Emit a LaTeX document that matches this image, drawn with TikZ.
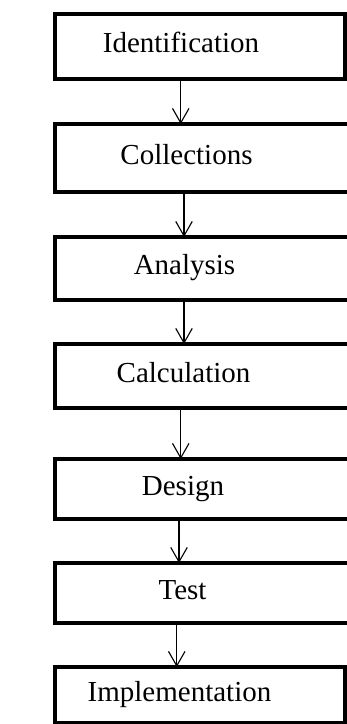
\documentclass[tikz,border=0pt]{standalone}
\usepackage{fontspec}
\setmainfont{Liberation Serif}
\usepackage{xcolor}
\definecolor{cLine}{HTML}{000000}
\usetikzlibrary{positioning,arrows.meta}
\tikzset{
  node-step/.style={draw=cLine,line width=1.72pt,outer sep=0pt,rectangle,
    minimum width=122pt},
  node-end/.style={minimum width=116.2pt},
  node-label/.style={inner sep=0pt,text height=0.7em,text depth=0.2em,
    font=\fontsize{11.6}{14}\selectfont},
  arrow/.style={-{Straight Barb[length=5.8pt,width=6.6pt]},line width=0.45pt,draw=cLine},
}

\begin{document}
\begin{tikzpicture}
  \useasboundingbox (0,0) rectangle (138.8pt,-289.6pt);
  \clip (0,0) rectangle (138.8pt,-289.6pt);
  \node[node-step,node-end,minimum height=26pt] (s1) at (80.1pt,-18.6pt) {};
  \node[node-step,minimum height=27.2pt,below=18pt of s1,xshift=2.9pt] (s2) {};
  \node[node-step,minimum height=25.2pt,below=18pt of s2] (s3) {};
  \node[node-step,minimum height=25.6pt,below=17.6pt of s3] (s4) {};
  \node[node-step,minimum height=24pt,below=20.4pt of s4] (s5) {};
  \node[node-step,minimum height=24pt,below=17.6pt of s5] (s6) {};
  \node[node-step,node-end,minimum height=22.4pt,below=17.6pt of s6,xshift=-3pt] (s7) {};

  \node[node-label] (t1) at ([xshift=-7.7pt]s1.center) {Identification};
  \node[node-label] (t2) at ([xshift=-8.4pt]s2.center) {Collections};
  \node[node-label] (t3) at ([xshift=-9.2pt]s3.center) {Analysis};
  \node[node-label] (t4) at ([xshift=-9.6pt]s4.center) {Calculation};
  \node[node-label] (t5) at ([xshift=-9.8pt]s5.center) {Design};
  \node[node-label] (t6) at ([xshift=-10pt]s6.center) {Test};
  \node[node-label] (t7) at ([xshift=-8.2pt]s7.center) {Implementation};

  \draw[arrow] ([xshift=-7.8pt]s1.south) -- ([xshift=-7.8pt]s1.south |- s2.north);
  \draw[arrow] ([xshift=-9.4pt]s2.south) -- ([xshift=-9.4pt]s2.south |- s3.north);
  \draw[arrow] ([xshift=-9.4pt]s3.south) -- ([xshift=-9.4pt]s3.south |- s4.north);
  \draw[arrow] ([xshift=-10.7pt]s4.south) -- ([xshift=-10.7pt]s4.south |- s5.north);
  \draw[arrow] ([xshift=-11.4pt]s5.south) -- ([xshift=-11.4pt]s5.south |- s6.north);
  \draw[arrow] ([xshift=-12.3pt]s6.south) -- ([xshift=-12.3pt]s6.south |- s7.north);
\end{tikzpicture}
\end{document}
